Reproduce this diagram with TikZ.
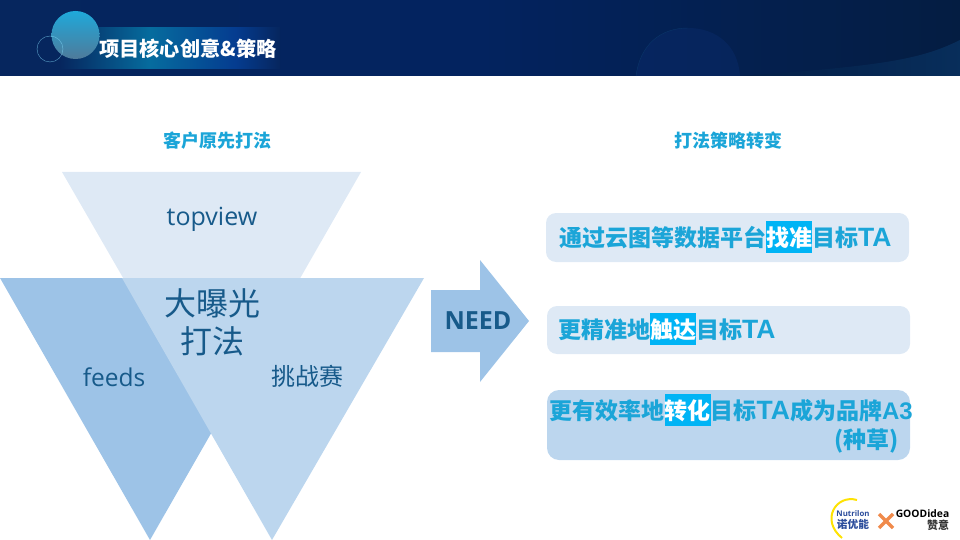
\documentclass[tikz,border=0pt]{standalone}
\usepackage{fontspec}
\usepackage{xcolor}
\setmainfont{Open Sans}
\newfontfamily\cjk{Noto Sans CJK SC}
\newfontfamily\barlatin{Liberation Sans}

\definecolor{navy}{HTML}{06265E}
\definecolor{navymid}{HTML}{03235F}
\definecolor{navydark}{HTML}{041D42}
\definecolor{bannermid}{HTML}{066C9E}
\definecolor{bannerend}{HTML}{053C90}
\definecolor{globeblue}{HTML}{0A2C6C}
\definecolor{glowblue}{HTML}{0B3A6C}
\definecolor{ballcyan}{HTML}{1FA9DA}
\definecolor{ballgrey}{HTML}{7FAFC0}
\definecolor{ballend}{HTML}{4F7A9A}
\definecolor{palebar}{HTML}{DEE9F5}
\definecolor{midbar}{HTML}{BCD6EE}
\definecolor{feedblue}{HTML}{9DC3E7}
\definecolor{cyantext}{HTML}{1BA5D8}
\definecolor{hlblue}{HTML}{00B4F5}
\definecolor{deepblue}{HTML}{175A8A}
\definecolor{nutriblue}{HTML}{2B4C9B}
\definecolor{crossorange}{HTML}{F08A4B}

\newcommand{\hlword}[1]{{\setlength{\fboxsep}{0pt}\colorbox{hlblue}{\rule[-7pt]{0pt}{32pt}\textcolor{white}{#1}}}}
\newcommand{\barword}[2][24]{{\barlatin\fontsize{#1}{28}\selectfont #2}}

\tikzset{
    heading/.style={text=cyantext, font=\cjk\bfseries\fontsize{18}{22}\selectfont},
    barlabel/.style={text=cyantext, anchor=base west, inner sep=0pt, font=\cjk\bfseries\fontsize{23}{28}\selectfont},
    trilabel/.style={text=deepblue, font=\fontsize{24.5}{28}\selectfont},
}

\begin{document}
\begin{tikzpicture}[x=1pt,y=-1pt]
        \useasboundingbox (0,0) rectangle (960,540);

        % header
        \shade [left color=navy, right color=navymid] (0,0) rectangle (480,76);
        \shade [left color=navymid, right color=navydark] (480,0) rectangle (960,76);
        \shade [left color=navydark, right color=glowblue, opacity=0.6] (740,76) -- (960,76) -- (960,40) .. controls (920,60) and (880,66) .. (740,76) -- cycle;
        \fill [globeblue, opacity=0.45] (636,76) .. controls (640,45) and (660,28) .. (688,28) .. controls (716,28) and (738,45) .. (740,76) -- cycle;
        \draw [glowblue, opacity=0.8] (636,76) .. controls (640,45) and (660,28) .. (688,28);
        \shade [left color=navy, right color=bannermid] (60,28) rectangle (150,69);
        \shade [left color=bannermid, right color=bannerend] (150,28) rectangle (235,69);
        \shade [left color=bannerend, right color=navy] (235,28) rectangle (280,69);
        \shade [shading angle=150, top color=ballcyan, middle color=ballgrey, bottom color=ballend] (75.5,35) circle (24);
        \draw [cyan!50!white, opacity=0.7, thin] (50,49) circle (13);
        \node (title) [text=white, font=\cjk\bfseries\fontsize{20.2}{24}\selectfont] at (188,49) {项目核心创意\&策略};

        % triangles
        \fill [palebar] (62,172) -- (361,172) -- (212,432) -- cycle;
        \fill [feedblue] (0,278) -- (300,278) -- (150,540) -- cycle;
        \fill [midbar] (122,278) -- (424,278) -- (272,540) -- cycle;

        \node (oldhead) [heading] at (217,141) {客户原先打法};
        \node (newhead) [heading] at (728,141) {打法策略转变};

        \node (topview) [trilabel, font=\fontsize{25}{28}\selectfont] at (212,219) {topview};
        \node (feeds) [trilabel] at (114,377) {feeds};
        \node (contest) [trilabel, font=\cjk\fontsize{24}{28}\selectfont] at (307,376) {挑战赛};
        \node (big) [text=deepblue, align=center, font=\cjk\fontsize{32}{38}\selectfont] at (212,322) {大曝光\\打法};

        % arrow
        \fill [feedblue] (431,290) -- (480,290) -- (480,260) -- (529,321) -- (480,382) -- (480,352) -- (431,352) -- cycle;
        \node (need) [text=deepblue, font=\bfseries\fontsize{25}{28}\selectfont] at (478,321) {NEED};

        % bars
        \fill [palebar, rounded corners=10] (546,213) rectangle (909,262);
        \fill [palebar, rounded corners=10] (547,306) rectangle (910,354);
        \fill [midbar, rounded corners=12] (547,390) rectangle (910,460);

        \node (find) [barlabel] at (559,246) {通过云图等数据平台\hlword{找准}目标\barword[26.5]{TA}};
        \node (reach) [barlabel] at (558,338) {更精准地\hlword{触达}目标\barword[26.5]{TA}};
        \node (convert) [barlabel] at (549.5,419) {更有效率地\hlword{转化}目标\barword[26.5]{TA}成为品牌\barword{A3}};
        \node (grass) [barlabel, anchor=base east] at (899,448) {(种草)};

        % logos
        \draw [yellow!85!orange, line width=2] (857,500) .. controls (836,494) and (820,520) .. (842,538);
        \node (nutrilon) [text=nutriblue, font=\bfseries\fontsize{7.8}{9}\selectfont, inner sep=0pt] at (853,514) {Nutrilon};
        \node (nuoyou) [text=nutriblue, font=\cjk\bfseries\fontsize{10.7}{12}\selectfont, inner sep=0pt] at (853,524) {诺优能};
        \draw [crossorange, line width=3.5] (879,514) -- (893,528);
        \draw [crossorange, line width=3.5] (893,514) -- (879,528);
        \node (goodidea) [text=black, font=\bfseries\fontsize{10.3}{11}\selectfont, inner sep=0pt] at (922.5,514) {GOODidea};
        \node (zanyi) [text=black!80, font=\cjk\bfseries\fontsize{11}{12}\selectfont, inner sep=0pt] at (938,525) {赞意};

    \end{tikzpicture}
\end{document}
